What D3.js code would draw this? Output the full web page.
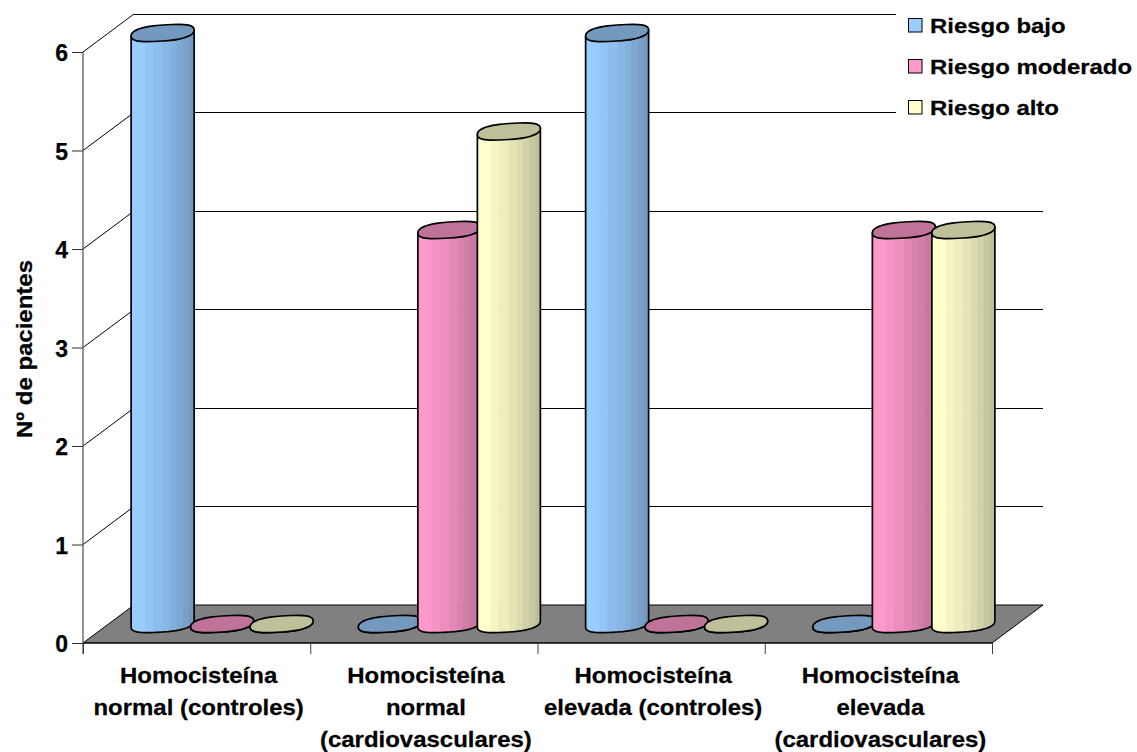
<!DOCTYPE html>
<html>
<head>
<meta charset="utf-8">
<script src="https://cdn.jsdelivr.net/npm/d3@7/dist/d3.min.js"></script>
<style>
html,body{margin:0;padding:0;background:#fff}
svg{display:block}
text{font-family:"Liberation Sans",Arial,sans-serif;font-weight:bold;fill:#000;stroke:#000;stroke-width:.25px}
</style>
</head>
<body>
<svg id="chart" width="1137" height="752"></svg>
<script>
// Chart data
const categories = [
  ["Homocisteína", "normal (controles)"],
  ["Homocisteína", "normal", "(cardiovasculares)"],
  ["Homocisteína", "elevada (controles)"],
  ["Homocisteína", "elevada", "(cardiovasculares)"]
];
const seriesNames = ["Riesgo bajo", "Riesgo moderado", "Riesgo alto"];
const riesgoBajo = [6, 0, 6, 0];
const riesgoModerado = [0, 4, 0, 4];
const riesgoAlto = [0, 5, 0, 4];
const seriesValues = [riesgoBajo, riesgoModerado, riesgoAlto];
const seriesColors = ["#99CCFF", "#FF99CC", "#FFFFCC"];
const valueTicks = [0, 1, 2, 3, 4, 5, 6];
const yTitle = "Nº de pacientes";

const svg = d3.select("#chart");

// Oblique projection: front plane plus a constant depth offset
const depthX = 51, depthY = -38;
const y = d3.scaleLinear().domain([0, 6]).range([643, 52]);
const xCat = d3.scaleLinear().domain([0, 4]).range([83, 992]);
const seriesOffset = d3.scaleLinear().domain([0, 2]).range([-59.5, 59.5]);

// Back wall gridlines and side wall diagonals
const walls = svg.append("g");
walls.selectAll("line.grid").data(valueTicks.slice(1)).join("line")
  .attr("class", "grid")
  .attr("x1", xCat(0) + depthX).attr("x2", xCat(4) + depthX)
  .attr("y1", d => y(d) + depthY).attr("y2", d => y(d) + depthY)
  .attr("stroke", "#000").attr("stroke-width", 1)
  .attr("shape-rendering", "crispEdges");
walls.selectAll("line.side").data(valueTicks.slice(1)).join("line")
  .attr("class", "side")
  .attr("x1", xCat(0)).attr("x2", xCat(0) + depthX)
  .attr("y1", d => y(d)).attr("y2", d => y(d) + depthY)
  .attr("stroke", "#000").attr("stroke-width", 1);

// Floor
const floorCorners = [
  [xCat(0), y(0)], [xCat(0) + depthX, y(0) + depthY],
  [xCat(4) + depthX, y(0) + depthY], [xCat(4), y(0)]
];
walls.append("path")
  .attr("d", d3.line()(floorCorners) + "Z")
  .attr("fill", "#808080").attr("stroke", "#000").attr("stroke-width", 1);

// Axes
const yAxis = d3.axisLeft(y).tickValues(valueTicks).tickSize(11).tickPadding(4).tickFormat(d3.format("d"));
const yG = svg.append("g").attr("transform", `translate(${xCat(0)},0)`).call(yAxis);
yG.select(".domain").attr("stroke", "#666").attr("stroke-width", 1.4).attr("d", `M0,${y(6)}V${y(0) + 11}`);
yG.selectAll(".tick line").attr("stroke", "#333");
yG.selectAll(".tick text")
  .attr("dy", "0.37em")
  .style("font-size", "23px")
  .style("font-family", '"Liberation Sans",Arial,sans-serif')
  .style("font-weight", "bold");

const xAxis = d3.axisBottom(xCat).tickValues([0, 1, 2, 3, 4]).tickSize(11).tickFormat("");
const xG = svg.append("g").attr("transform", `translate(0,${y(0)})`).call(xAxis);
xG.select(".domain").attr("stroke", "#000").attr("d", `M${xCat(0)},0H${xCat(4)}`);
xG.selectAll(".tick line").attr("stroke", "#404040");

// Cylinders: faceted shaft under a tilted, slightly squared elliptical cap
const radiusX = 31.5, radiusY = 8, tilt = 3, squareness = 0.8;
const facetStops = [0, .22, .345, .5, .625, .72, .825, .92, 1];
const signedPow = v => Math.sign(v) * Math.pow(Math.abs(v), squareness);
const rimPoint = (cx, cy, t) => [
  cx + radiusX * signedPow(Math.cos(t)),
  cy + radiusY * signedPow(Math.sin(t)) - tilt * Math.cos(t)
];
const capPath = (cx, cy) => d3.line().curve(d3.curveCatmullRomClosed)(
  d3.range(28).map(i => rimPoint(cx, cy, i / 28 * 2 * Math.PI)));
const shaftPath = (cx, top, base) => {
  const lower = d3.range(0, 29).map(i => rimPoint(cx, base, i / 28 * Math.PI));
  const right = rimPoint(cx, top, 0), left = rimPoint(cx, top, Math.PI);
  return "M" + right.join(",") + "L" + lower.map(p => p.join(",")).join("L") + "L" + left.join(",") + "Z";
};
const shade = (color, k) => {
  const c = d3.rgb(color);
  return d3.rgb(c.r * k, c.g * k, c.b * k).formatHex();
};

const defs = svg.append("defs");
const midX = depthX / 2, midY = depthY / 2;
const barsLayer = svg.append("g");

seriesValues.forEach((values, s) => {
  values.forEach((v, c) => {
    const cx = xCat(c + 0.5) + midX + seriesOffset(s);
    const top = y(v) + midY, base = y(0) + midY;
    const id = `shaft-${s}-${c}`;
    const d = shaftPath(cx, top, base);
    defs.append("clipPath").attr("id", id).append("path").attr("d", d);
    const bar = barsLayer.append("g");
    const facets = bar.append("g").attr("clip-path", `url(#${id})`);
    facetStops.slice(0, -1).forEach((f, i) => {
      const k = 1 - 0.25 * i / (facetStops.length - 2);
      facets.append("rect")
        .attr("x", cx - radiusX + f * 2 * radiusX)
        .attr("width", (facetStops[i + 1] - f) * 2 * radiusX + 0.5)
        .attr("y", top - 12).attr("height", base - top + 24)
        .attr("fill", shade(seriesColors[s], k));
    });
    bar.append("path").attr("d", d).attr("fill", "none")
      .attr("stroke", "#000").attr("stroke-width", 1.7).attr("stroke-linejoin", "round");
    bar.append("path").attr("d", capPath(cx, top))
      .attr("fill", shade(seriesColors[s], 0.75))
      .attr("stroke", "#000").attr("stroke-width", 1.7);
  });
});

// Category labels, set slightly wide
const catLabels = svg.append("g").attr("text-anchor", "middle").attr("font-size", 22);
categories.forEach((lines, c) => {
  catLabels.selectAll(null).data(lines).join("text")
    .attr("transform", (d, i) => `translate(${xCat(c + 0.5) + 2},${683 + i * 31.8}) scale(1.09,1)`)
    .text(d => d);
});

// Value axis title
svg.append("text")
  .attr("transform", "translate(32,349) rotate(-90) scale(1.09,1)")
  .attr("text-anchor", "middle").attr("font-size", 22)
  .text(yTitle);

// Legend on an opaque panel that cuts the gridlines short
const legend = svg.append("g");
legend.append("rect").attr("x", 896).attr("y", 0).attr("width", 241).attr("height", 130).attr("fill", "#fff");
const rows = legend.selectAll("g.row").data(seriesNames).join("g")
  .attr("class", "row")
  .attr("transform", (d, i) => `translate(0,${25.5 + i * 41})`);
rows.append("rect")
  .attr("x", 908.5).attr("y", -7).attr("width", 13.5).attr("height", 13.5)
  .attr("fill", (d, i) => seriesColors[i]).attr("stroke", "#000").attr("stroke-width", 1);
rows.append("text")
  .attr("transform", "translate(930,7.5) scale(1.14,1)")
  .attr("font-size", 21)
  .text(d => d);
</script>
</body>
</html>
